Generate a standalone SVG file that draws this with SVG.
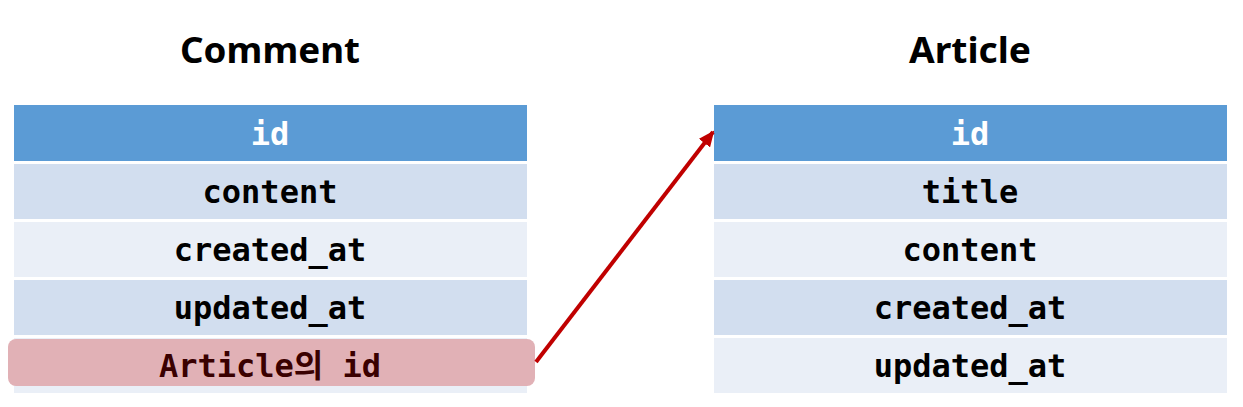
<svg xmlns="http://www.w3.org/2000/svg" width="1243" height="407" viewBox="0 0 1243 407">
<defs>
<style>
.title{font-family:"Noto Sans","Noto Sans CJK KR",sans-serif;font-weight:bold;font-size:36px;fill:#000;text-anchor:middle}
.hd{fill:#5B9BD5}
.dk{fill:#D2DEEF}
.lt{fill:#EAEFF7}
.f{font-family:"DejaVu Sans Mono","Noto Sans CJK KR",monospace;font-weight:bold;font-size:32px;text-anchor:middle;fill:#000}
.fh{fill:#fff}
</style>
<marker id="ah" markerWidth="16" markerHeight="14" refX="14" refY="7" orient="auto" markerUnits="userSpaceOnUse" viewBox="0 0 16 14">
<path d="M0,0 L16,7 L0,14 z" fill="#C00000"/>
</marker>
</defs>
<rect width="1243" height="407" fill="#fff"/>
<g id="comment">
<text class="title" x="270" y="63" textLength="180" lengthAdjust="spacingAndGlyphs">Comment</text>
<rect class="hd" x="14" y="105" width="513" height="56"/>
<text class="f fh" x="270" y="145">id</text>
<rect class="dk" x="14" y="164" width="513" height="55"/>
<text class="f" x="270" y="203">content</text>
<rect class="lt" x="14" y="222" width="513" height="55"/>
<text class="f" x="270" y="261">created_at</text>
<rect class="dk" x="14" y="280" width="513" height="55"/>
<text class="f" x="270" y="319">updated_at</text>
<rect class="lt" x="14" y="338" width="513" height="55"/>
<rect x="8" y="339" width="527" height="47" rx="8" fill="#E1B1B6"/>
<text class="f" x="270" y="377" style="fill:#3A0000">Article의 id</text>
</g>
<g id="article">
<text class="title" x="970" y="63" textLength="122" lengthAdjust="spacingAndGlyphs">Article</text>
<rect class="hd" x="714" y="105" width="513" height="56"/>
<text class="f fh" x="970" y="145">id</text>
<rect class="dk" x="714" y="164" width="513" height="55"/>
<text class="f" x="970" y="203">title</text>
<rect class="lt" x="714" y="222" width="513" height="55"/>
<text class="f" x="970" y="261">content</text>
<rect class="dk" x="714" y="280" width="513" height="55"/>
<text class="f" x="970" y="319">created_at</text>
<rect class="lt" x="714" y="338" width="513" height="55"/>
<text class="f" x="970" y="377">updated_at</text>
</g>
<g id="connectors">
<line x1="536" y1="362" x2="713" y2="132" stroke="#C00000" stroke-width="4" marker-end="url(#ah)"/>
</g>
</svg>
